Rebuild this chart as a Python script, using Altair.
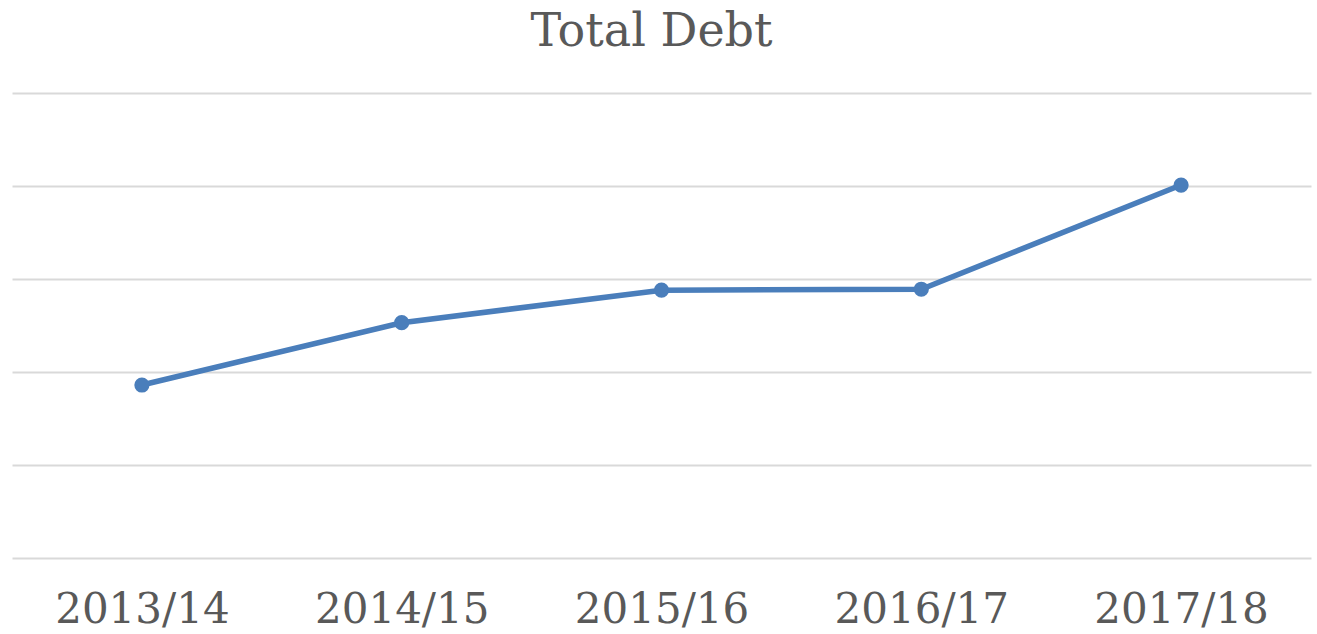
import altair as alt
import pandas as pd

years = ["2013/14", "2014/15", "2015/16", "2016/17", "2017/18"]
debt = [1.86, 2.53, 2.88, 2.89, 4.01]

df = pd.DataFrame({"year": years, "debt": debt})

base = alt.Chart(df).encode(
    x=alt.X("year:N", sort=years, title=None,
            scale=alt.Scale(type="point", padding=0.5),
            axis=alt.Axis(labelAngle=0, labelFont="DejaVu Serif", labelFontSize=42,
                          labelColor="#595959", ticks=False, domain=False, grid=False,
                          labelPadding=31)),
    y=alt.Y("debt:Q", title=None,
            scale=alt.Scale(domain=[0, 5], nice=False, zero=True),
            axis=alt.Axis(values=[0, 1, 2, 3, 4, 5], labels=False, ticks=False, domain=False,
                          grid=True, gridColor="#d9d9d9", gridWidth=2)),
)

line = base.mark_line(color="#4a7ebb", strokeWidth=5.5)
pts = base.mark_point(filled=True, color="#4a7ebb", size=230, opacity=1)

chart = (line + pts).properties(
    width=1299, height=465,
    title=alt.TitleParams("Total Debt", font="DejaVu Serif", fontSize=46, color="#595959",
                          fontWeight="normal", anchor="middle", baseline="alphabetic", offset=1,
                          dx=-10),
    autosize=alt.AutoSizeParams(type="none"),
    padding={"left": 12, "top": 93, "right": 6, "bottom": 76},
).configure_view(stroke=None)

chart.save("out.html", embed_options={"renderer": "svg", "actions": False})
